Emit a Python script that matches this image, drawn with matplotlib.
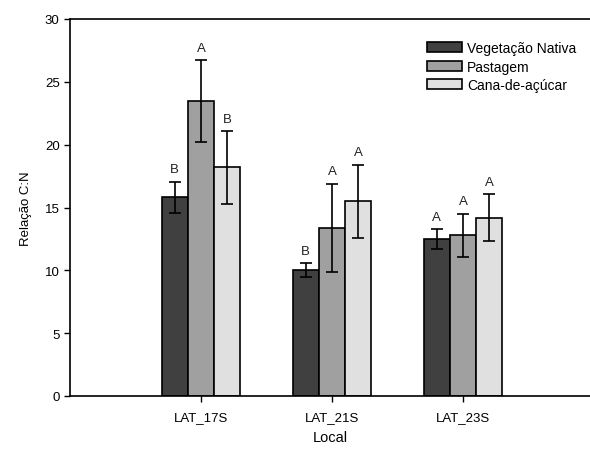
import numpy as np
import matplotlib
matplotlib.use("Agg")
import matplotlib.pyplot as plt
from matplotlib.patches import Patch

plt.rcParams['font.family'] = ['Liberation Sans', 'DejaVu Sans']

# Data
locais = ["LAT_17S", "LAT_21S", "LAT_23S"]
series = ["Vegetação Nativa", "Pastagem", "Cana-de-açúcar"]
vegetacao = [15.8, 10.0, 12.5]
pastagem = [23.5, 13.4, 12.8]
cana = [18.2, 15.5, 14.2]
err_vegetacao = [1.25, 0.55, 0.8]
err_pastagem = [3.25, 3.5, 1.7]
err_cana = [2.9, 2.9, 1.85]
letras_vegetacao = ["B", "B", "A"]
letras_pastagem = ["A", "A", "A"]
letras_cana = ["B", "A", "A"]

colors = ["#404040", "#a0a0a0", "#e0e0e0"]

fig = plt.figure(figsize=(5.9, 4.56), dpi=100)
ax = fig.add_axes([70 / 590, (456 - 397) / 456, 520 / 590, 377 / 456])

x = np.arange(1, len(locais) + 1)
width = 0.2
vals = [vegetacao, pastagem, cana]
errs = [err_vegetacao, err_pastagem, err_cana]
letras = [letras_vegetacao, letras_pastagem, letras_cana]

for i in range(3):
    pos = x + (i - 1) * width
    ax.bar(pos, vals[i], width, color=colors[i], edgecolor="black", linewidth=1.2,
           label=series[i], zorder=2)
    ax.errorbar(pos, vals[i], yerr=errs[i], fmt="none", ecolor="black",
                elinewidth=1.2, capsize=4, capthick=1.2, zorder=3)
    for p, v, e, l in zip(pos, vals[i], errs[i], letras[i]):
        ax.text(p, v + e + 0.5, l, ha="center", va="bottom", fontsize=9.5,
                color="#222222")

ax.set_xlim(0, 3.97)
ax.set_ylim(0, 30)
ax.set_yticks(np.arange(0, 31, 5))
ax.set_xticks(x)
ax.set_xticklabels(locais)
ax.spines["right"].set_visible(False)
for s in ["left", "bottom", "top"]:
    ax.spines[s].set_linewidth(1.2)
ax.tick_params(direction="out", labelsize=9.5, length=4, width=1)
ax.tick_params(axis="x", pad=7)
ax.set_xlabel("Local", fontsize=10.5, labelpad=5)
ax.set_ylabel("Relação C:N", fontsize=9.5, labelpad=9)

handles = [Patch(facecolor=c, edgecolor="black", linewidth=1.2) for c in colors]
fig.legend(handles, series, loc="upper left", bbox_to_anchor=(427 / 590, 1 - 42 / 456),
           frameon=False, fontsize=10, handlelength=2.5, handleheight=0.75,
           labelspacing=0.33, handletextpad=0.4, borderpad=0, borderaxespad=0)

fig.savefig("out.png", dpi=100)
